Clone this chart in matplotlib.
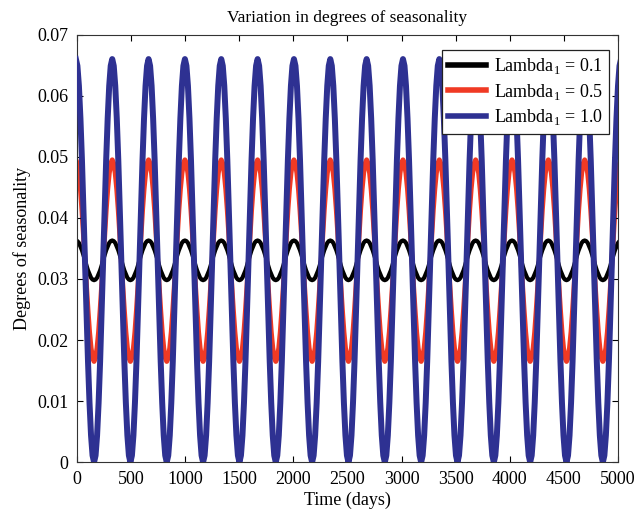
from __future__ import annotations

import matplotlib

matplotlib.use("Agg")
import matplotlib.pyplot as plt
import numpy as np

# values: one seasonal cycle per series, repeated
period_days = 336
first_peak_day = -11
n_cycles = 16
cycle_offsets = [0, 14, 28, 42, 56, 70, 84, 98, 112, 126, 140, 154,
                 168, 182, 196, 210, 224, 238, 252, 266, 280, 294, 308, 322]

black_cycle = [0.0363, 0.0362, 0.0359, 0.0353, 0.0347, 0.0339, 0.0331, 0.0322,
               0.0314, 0.0308, 0.0302, 0.0299, 0.0298, 0.0299, 0.0302, 0.0308,
               0.0314, 0.0322, 0.0331, 0.0339, 0.0347, 0.0353, 0.0359, 0.0362]
red_cycle = [0.0495, 0.0489, 0.0473, 0.0447, 0.0413, 0.0373, 0.0330, 0.0287,
             0.0248, 0.0213, 0.0187, 0.0171, 0.0165, 0.0171, 0.0187, 0.0213,
             0.0248, 0.0287, 0.0330, 0.0373, 0.0413, 0.0447, 0.0473, 0.0489]
blue_cycle = [0.0660, 0.0649, 0.0616, 0.0563, 0.0495, 0.0415, 0.0330, 0.0245,
              0.0165, 0.0097, 0.0044, 0.0011, 0.0000, 0.0011, 0.0044, 0.0097,
              0.0165, 0.0245, 0.0330, 0.0415, 0.0495, 0.0563, 0.0616, 0.0649]

series_labels = ["0.1", "0.5", "1.0"]
x_ticks = [0, 500, 1000, 1500, 2000, 2500, 3000, 3500, 4000, 4500, 5000]
y_ticks = [0, 0.01, 0.02, 0.03, 0.04, 0.05, 0.06, 0.07]
y_tick_labels = ["0", "0.01", "0.02", "0.03", "0.04", "0.05", "0.06", "0.07"]


def _repeat_cycle(cycle: list[float]) -> tuple[np.ndarray, np.ndarray]:
    starts = first_peak_day + period_days * np.arange(n_cycles)
    days = (starts[:, None] + np.asarray(cycle_offsets)[None, :]).ravel()
    values = np.tile(cycle, n_cycles)
    # close the last cycle
    days = np.append(days, starts[-1] + period_days)
    values = np.append(values, cycle[0])
    return days, values


plt.rcParams["font.family"] = ["Liberation Serif", "DejaVu Serif"]
plt.rcParams["mathtext.fontset"] = "custom"
plt.rcParams["mathtext.rm"] = "Liberation Serif"

fig = plt.figure(figsize=(6.37, 5.17), dpi=100)
ax = fig.add_axes([0.121, 0.106, 0.849, 0.827])

styles = [
    (black_cycle, "#000000", 3.0, 2),
    (red_cycle, "#f03a24", 3.6, 1),
    (blue_cycle, "#2e3192", 4.3, 3),
]
for (cycle, color, lw, z), label in zip(styles, series_labels):
    days, values = _repeat_cycle(cycle)
    ax.plot(days, values, color=color, linewidth=lw, zorder=z,
            label=r"Lambda$_\mathregular{1}$ = " + label)

ax.set_xlim(0, 5000)
ax.set_ylim(0, 0.07)
ax.set_xticks(x_ticks)
ax.set_yticks(y_ticks)
ax.set_yticklabels(y_tick_labels)
ax.tick_params(direction="in", top=True, right=True, labelsize=13, length=4, width=0.8, pad=6)
for spine in ax.spines.values():
    spine.set_linewidth(0.8)
    spine.set_color("#333333")

ax.set_title("Variation in degrees of seasonality", fontsize=12.5, pad=9)
ax.set_xlabel("Time (days)", fontsize=13, labelpad=3)
ax.set_ylabel("Degrees of seasonality", fontsize=13, labelpad=5)

leg = ax.legend(loc="upper right", bbox_to_anchor=(1.0, 0.985), fontsize=13,
                handlelength=2.1, handletextpad=0.4, borderpad=0.35, labelspacing=0.3,
                fancybox=False, framealpha=1, edgecolor="#222222")
leg.set_zorder(5)
leg.get_frame().set_linewidth(0.9)
for line in leg.get_lines():
    line.set_linewidth(4.0)

fig.savefig("out.png", dpi=100)
plt.close(fig)
